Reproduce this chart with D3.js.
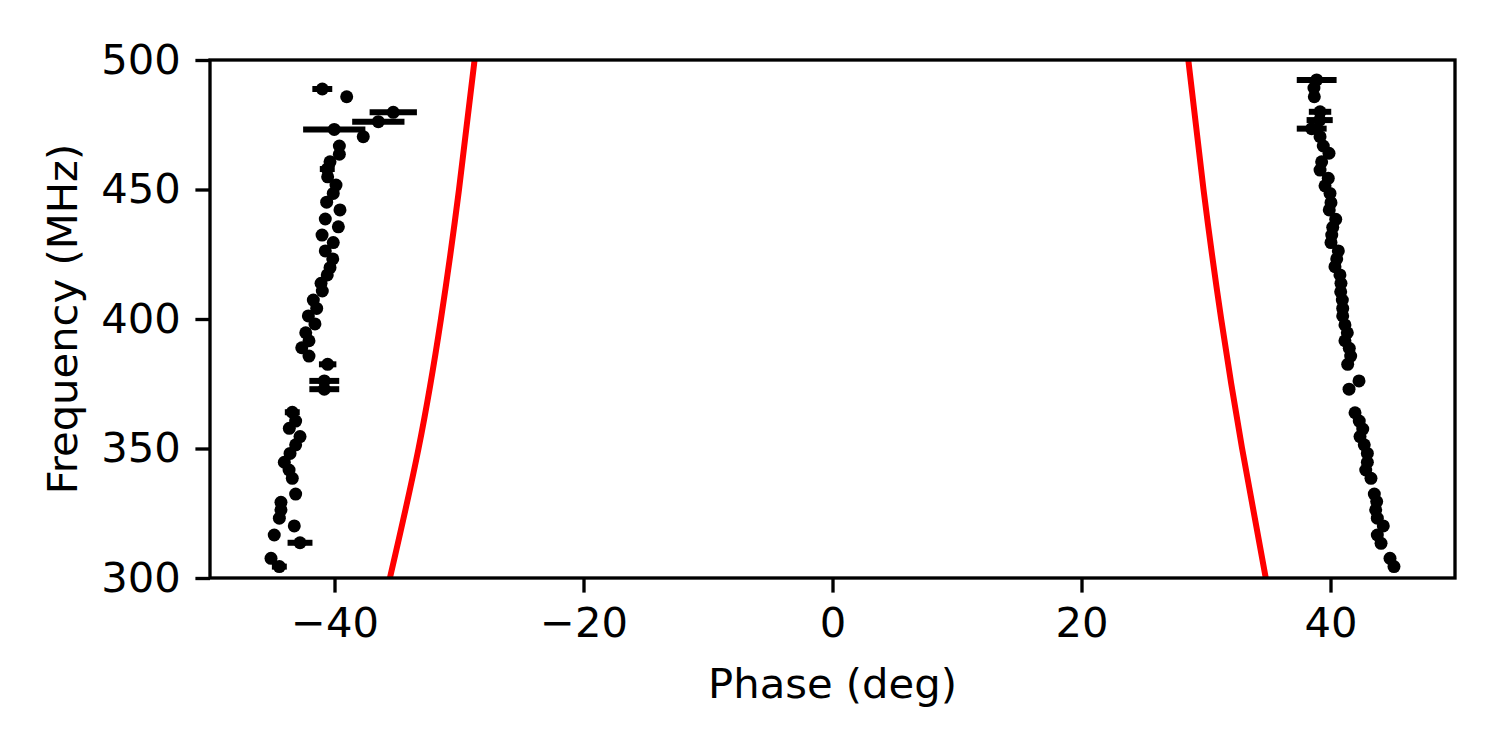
<!DOCTYPE html>
<html>
<head>
<meta charset="utf-8">
<title>Phase vs Frequency</title>
<style>
    body { margin: 0; background: #fff; }
    svg { font-family: "DejaVu Sans", sans-serif; }
</style>
</head>
<body>
<svg width="1500" height="750"></svg>
<script src="https://d3js.org/d3.v7.min.js"></script>
<script>

    // left (negative phase) component
    var leftFreq = [488.8, 485.8, 479.8, 476.2, 473.2, 470.4, 466.8, 463.6, 460.7, 457.9,
        454.9, 451.7, 448.5, 445.1, 442.1, 438.6, 435.6, 432.4, 429.5, 426.3,
        423.2, 419.8, 417.0, 413.8, 410.8, 407.3, 404.1, 401.2, 398.1, 394.7,
        391.6, 388.9, 385.7, 382.5, 376.1, 372.9, 364.0, 360.6, 357.8, 354.6,
        351.4, 348.1, 344.7, 341.7, 338.5, 332.4, 329.2, 326.3, 323.1, 320.1,
        316.6, 313.6, 307.6, 304.4];
    var leftPhase = [-40.98, -39.02, -35.28, -36.48, -40.02, -37.69, -39.61, -39.61, -40.36, -40.58,
        -40.55, -39.88, -40.10, -40.63, -39.56, -40.74, -39.69, -41.00, -40.10, -40.74,
        -40.14, -40.36, -40.58, -41.08, -40.98, -41.70, -41.43, -42.10, -41.57, -42.31,
        -42.05, -42.63, -42.05, -40.55, -40.82, -40.82, -43.39, -43.12, -43.63, -42.77,
        -43.12, -43.57, -44.03, -43.65, -43.39, -43.12, -44.30, -44.30, -44.43, -43.23,
        -44.84, -42.77, -45.10, -44.43];
    var leftErr = [0.8, 0.3, 1.9, 2.1, 2.5, 0.3, 0.3, 0.3, 0.3, 0.6,
        0.3, 0.3, 0.3, 0.3, 0.3, 0.3, 0.3, 0.3, 0.3, 0.3,
        0.3, 0.3, 0.3, 0.3, 0.3, 0.3, 0.3, 0.3, 0.3, 0.3,
        0.3, 0.3, 0.3, 0.7, 1.2, 1.2, 0.6, 0.3, 0.3, 0.3,
        0.3, 0.3, 0.3, 0.3, 0.3, 0.3, 0.3, 0.3, 0.3, 0.3,
        0.3, 1.0, 0.3, 0.6];

    // right (positive phase) component
    var rightFreq = [492.3, 489.2, 485.8, 480.0, 476.8, 473.5, 470.4, 466.8, 464.0, 460.7,
        457.5, 454.3, 451.4, 448.5, 444.9, 442.1, 438.5, 435.4, 432.4, 429.5,
        426.3, 423.2, 420.2, 417.0, 413.8, 410.5, 407.3, 404.1, 401.2, 397.7,
        394.7, 391.6, 388.7, 385.7, 382.5, 376.1, 372.9, 363.8, 360.6, 357.5,
        354.6, 351.4, 348.1, 344.7, 341.7, 338.5, 332.4, 329.5, 326.3, 323.1,
        320.1, 316.6, 313.4, 307.6, 304.4];
    var rightPhase = [38.89, 38.67, 38.70, 39.16, 39.13, 38.49, 39.16, 39.42, 39.88, 39.29,
        39.16, 39.82, 39.56, 39.96, 40.04, 39.90, 40.42, 40.18, 40.10, 40.04,
        40.63, 40.50, 40.36, 40.76, 40.84, 40.82, 40.95, 40.98, 40.98, 41.16,
        41.35, 41.16, 41.51, 41.62, 41.38, 42.29, 41.49, 41.97, 42.31, 42.59,
        42.37, 42.71, 42.96, 42.96, 42.83, 43.25, 43.52, 43.71, 43.63, 43.76,
        44.24, 43.76, 44.06, 44.78, 45.10];
    var rightErr = [1.6, 0.3, 0.3, 0.9, 1.05, 1.2, 0.3, 0.3, 0.3, 0.3,
        0.3, 0.3, 0.3, 0.3, 0.3, 0.3, 0.3, 0.3, 0.3, 0.3,
        0.3, 0.3, 0.3, 0.3, 0.3, 0.3, 0.3, 0.3, 0.3, 0.3,
        0.3, 0.3, 0.3, 0.3, 0.3, 0.3, 0.3, 0.3, 0.3, 0.3,
        0.3, 0.3, 0.3, 0.3, 0.3, 0.3, 0.3, 0.3, 0.3, 0.3,
        0.3, 0.3, 0.3, 0.3, 0.3];

    // red model curves
    var modelFreq = [300, 350, 400, 450, 500];
    var modelLeft = [-35.55, -33.25, -31.45, -30.0, -28.75];
    var modelRight = [34.8, 32.9, 31.22, 29.8, 28.58];

    var xTicks = [-40, -20, 0, 20, 40];
    var yTicks = [300, 350, 400, 450, 500];

    var svg = d3.select("svg"),
        margin = {top: 60, right: 45, bottom: 172, left: 210},
        width = +svg.attr("width") - margin.left - margin.right,
        height = +svg.attr("height") - margin.top - margin.bottom;

    var fontSize = 41.7, lw = 3.33, tickLen = 14.6;

    var x = d3.scaleLinear().domain([-50, 50]).range([0, width]);
    var y = d3.scaleLinear().domain([300, 500]).range([height, 0]);

    var g = svg.append("g").attr("transform", "translate(" + margin.left + "," + margin.top + ")");

    g.append("clipPath").attr("id", "plot-clip")
        .append("rect").attr("width", width).attr("height", height);

    var plot = g.append("g").attr("clip-path", "url(#plot-clip)");

    var line = d3.line()
        .x(function(d) { return x(d[0]); })
        .y(function(d) { return y(d[1]); })
        .curve(d3.curveNatural);

    [modelLeft, modelRight].forEach(function(arr) {
        plot.append("path")
            .datum(modelFreq.map(function(f, i) { return [arr[i], f]; }))
            .attr("fill", "none")
            .attr("stroke", "#ff0000")
            .attr("stroke-width", 6)
            .attr("d", line);
    });

    function drawSeries(freq, phase, err) {
        var pts = freq.map(function(f, i) { return {f: f, p: phase[i], e: err[i]}; });
        plot.append("g").selectAll("line")
            .data(pts)
            .enter().append("line")
            .attr("x1", function(d) { return x(d.p - d.e); })
            .attr("x2", function(d) { return x(d.p + d.e); })
            .attr("y1", function(d) { return y(d.f); })
            .attr("y2", function(d) { return y(d.f); })
            .attr("stroke", "#000")
            .attr("stroke-width", 6);
        plot.append("g").selectAll("circle")
            .data(pts)
            .enter().append("circle")
            .attr("cx", function(d) { return x(d.p); })
            .attr("cy", function(d) { return y(d.f); })
            .attr("r", 6.5)
            .attr("fill", "#000");
    }
    drawSeries(leftFreq, leftPhase, leftErr);
    drawSeries(rightFreq, rightPhase, rightErr);

    // axes
    var xAxis = g.append("g")
        .attr("transform", "translate(0," + height + ")")
        .call(d3.axisBottom(x).tickValues(xTicks).tickSizeOuter(0).tickSize(tickLen).tickPadding(14.6));
    var yAxis = g.append("g")
        .call(d3.axisLeft(y).tickValues(yTicks).tickSizeOuter(0).tickSize(tickLen).tickPadding(14.6));

    [xAxis, yAxis].forEach(function(a) {
        a.select(".domain").remove();
        a.selectAll(".tick line").attr("stroke", "#000").attr("stroke-width", lw);
        a.selectAll(".tick text")
            .attr("fill", "#000")
            .style("font-size", fontSize + "px")
            .style("font-family", "'DejaVu Sans', sans-serif");
    });

    // frame
    g.append("rect")
        .attr("width", width)
        .attr("height", height)
        .attr("fill", "none")
        .attr("stroke", "#000")
        .attr("stroke-width", lw);

    g.append("text")
        .attr("x", width / 2)
        .attr("y", height + 120)
        .attr("text-anchor", "middle")
        .style("font-size", fontSize + "px")
        .text("Phase (deg)");

    svg.append("text")
        .attr("transform", "translate(77," + (margin.top + height / 2) + ") rotate(-90)")
        .attr("text-anchor", "middle")
        .style("font-size", fontSize + "px")
        .text("Frequency (MHz)");

</script>
</body>
</html>
